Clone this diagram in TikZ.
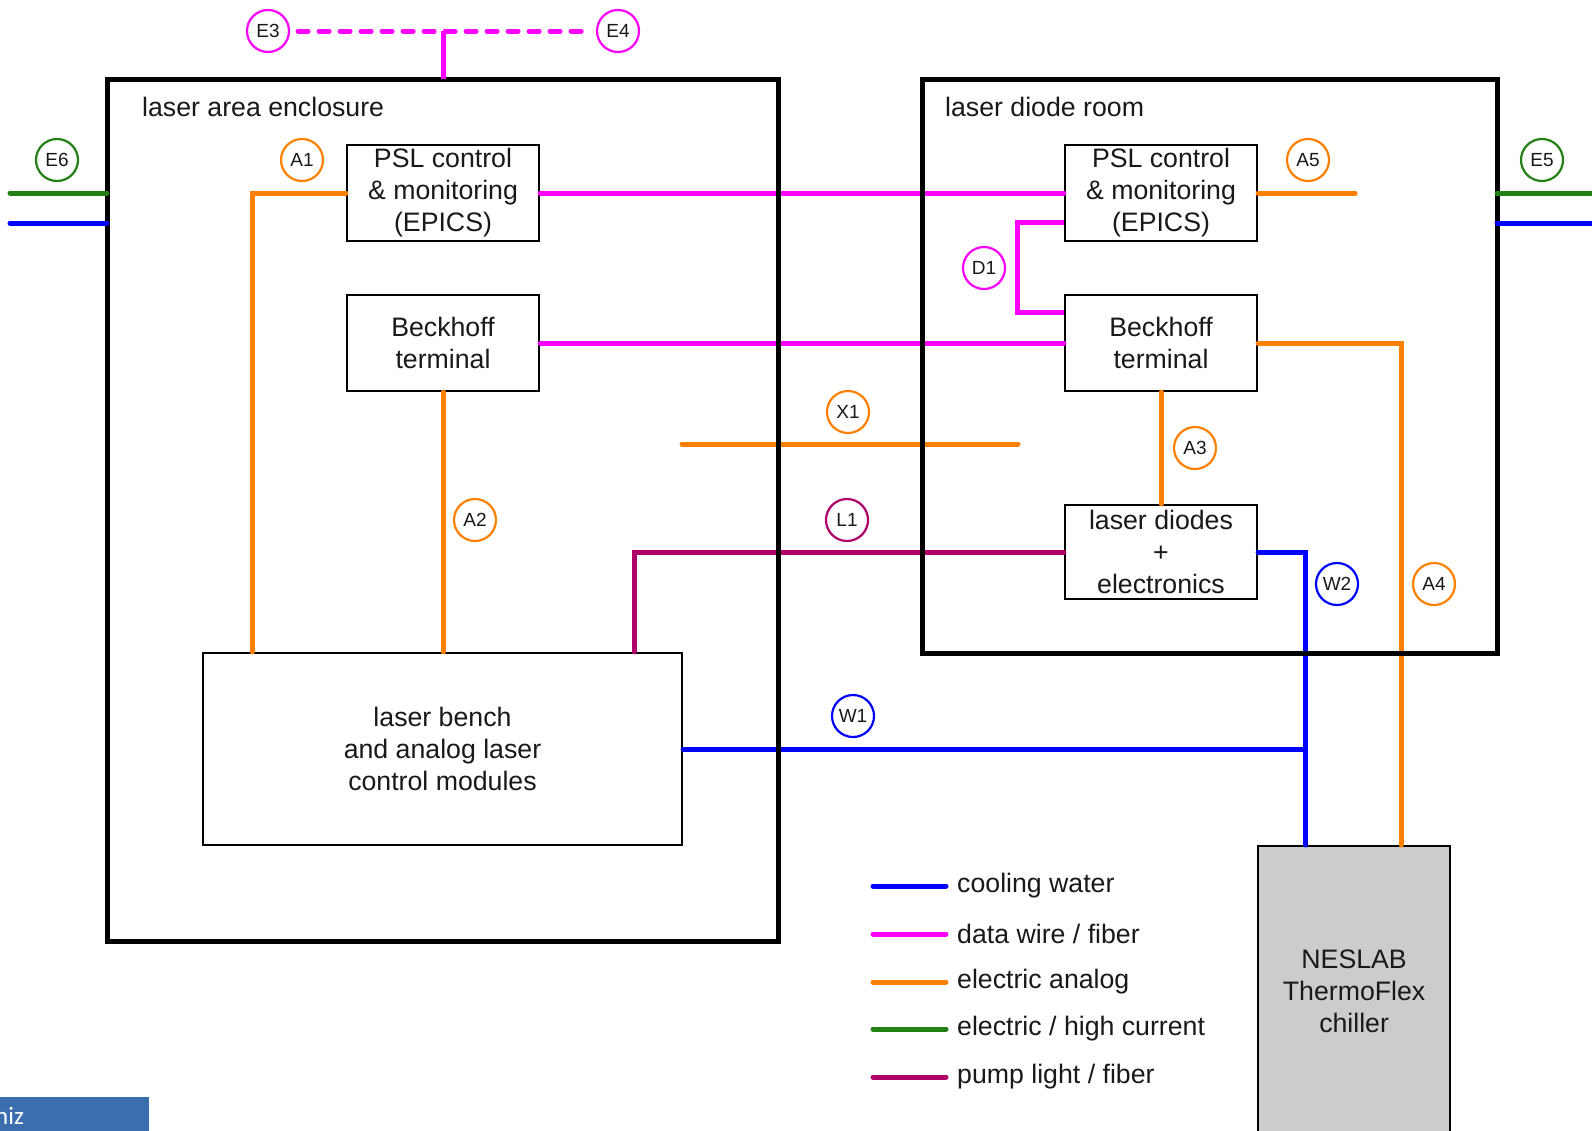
\documentclass[tikz,border=0pt]{standalone}
\usepackage{fontspec}
\setmainfont{Liberation Sans}
\newfontfamily\barfont{Carlito}
\definecolor{cOrange}{RGB}{255,128,0}
\definecolor{cMag}{RGB}{255,0,255}
\definecolor{cBlue}{RGB}{0,0,255}
\definecolor{cGreen}{RGB}{34,128,20}
\definecolor{cPump}{RGB}{176,0,104}
\definecolor{cBar}{RGB}{58,110,175}
\definecolor{cTxt}{RGB}{25,25,25}
\begin{document}
\begin{tikzpicture}[x=1pt,y=-1pt,
  room/.style={draw,line width=5pt,outer sep=0pt,inner sep=0pt,anchor=north west},
  box/.style={draw,line width=2.2pt,minimum width=192pt,minimum height=96pt,inner sep=0pt,
    align=center,text=cTxt,font=\fontsize{26.7}{32}\selectfont},
  tag/.style={circle,draw,line width=2.2pt,minimum size=42pt,inner sep=0pt,text=cTxt,
    font=\fontsize{19}{19}\selectfont},
  bigtext/.style={inner sep=0pt,text=cTxt,font=\fontsize{26.7}{32}\selectfont},
  wire/.style={line width=5pt,line cap=round},
  analog/.style={wire,draw=cOrange},
  data/.style={wire,draw=cMag},
  water/.style={wire,draw=cBlue},
  power/.style={wire,draw=cGreen},
  pump/.style={wire,draw=cPump},
]
\clip (0,0) rectangle (1592,1130);
\fill[white] (0,0) rectangle (1592,1130);

% boxes
\node[box] (psll) at (443,193) {PSL control\\\& monitoring\\(EPICS)};
\node[box] (beckl) at (443,343) {Beckhoff\\terminal};
\node[box,minimum width=479pt,minimum height=192pt] (bench) at (442.5,749) {laser bench\\and analog laser\\control modules};
\node[box] (pslr) at (1161,193) {PSL control\\\& monitoring\\(EPICS)};
\node[box] (beckr) at (1161,343) {Beckhoff\\terminal};
\node[box,minimum height=94pt] (diodes) at (1161,552) {laser diodes\\+\\electronics};
\node[box,fill=black!20,minimum width=192pt,minimum height=290pt,anchor=north west] (chiller) at (1257,845) {NESLAB\\ThermoFlex\\chiller};

% bend coordinates
\coordinate (a1x) at (252,0);
\coordinate (l1x) at (634,0);
\coordinate (wx) at (1305,0);
\coordinate (a4x) at (1401,0);
\coordinate (d1x) at (1017,0);
\coordinate (x1a) at (682,444);
\coordinate (x1b) at (1018,444);
\coordinate (e6g) at (10,193);
\coordinate (e6b) at (10,223);
\coordinate (e5g) at (1592,193);
\coordinate (e5b) at (1592,223);

% tags
\node[tag,draw=cMag] (e3) at (268,31) {E3};
\node[tag,draw=cMag] (e4) at (618,31) {E4};
\node[tag,draw=cGreen] (e6) at (57,160) {E6};
\node[tag,draw=cOrange] (a1) at (302,160) {A1};
\node[tag,draw=cOrange] (a5) at (1308,160) {A5};
\node[tag,draw=cGreen] (e5) at (1542,160) {E5};
\node[tag,draw=cMag] (d1) at (984,268) {D1};
\node[tag,draw=cOrange] (x1) at (848,412) {X1};
\node[tag,draw=cOrange] (a3) at (1195,448) {A3};
\node[tag,draw=cOrange] (a2) at (475,520) {A2};
\node[tag,draw=cPump] (l1) at (847,520) {L1};
\node[tag,draw=cBlue] (w2) at (1337,584) {W2};
\node[tag,draw=cOrange] (a4) at (1434,584) {A4};
\node[tag,draw=cBlue] (w1) at (853,716) {W1};

% connectors
\draw[analog] (psll.west) -| (bench.north -| a1x);
\draw[analog] (beckl.south) -- (bench.north -| beckl.south);
\draw[pump] (diodes.west) -| (bench.north -| l1x);
\draw[water] (diodes.east) -| (chiller.north -| wx);
\draw[water] (bench.east) -- (bench.east -| wx);
\draw[analog] (beckr.east) -| (chiller.north -| a4x);
\draw[analog] (beckr.south) -- (diodes.north);
\draw[data] (psll.east) -- (pslr.west);
\draw[data] (beckl.east) -- (beckr.west);
\draw[data,line cap=butt] ([yshift=-29pt]pslr.west) -| ([yshift=31pt]beckr.west -| d1x) -- ([yshift=31pt]beckr.west);
\draw[analog] (pslr.east) -- ++(97,0);
\draw[analog] (x1a) -- (x1b);
\path (e3) -- (e4) coordinate[midway] (tee);
\draw[data,dash pattern=on 10pt off 11pt] ([xshift=8pt]e3.east) -- ([xshift=-8pt]e4.west);

% rooms
\node[room,minimum width=671pt,minimum height=862pt] (encl) at (107,79) {};
\node[room,minimum width=575pt,minimum height=574pt] (droom) at (922,79) {};
\node[bigtext,anchor=west] (enclt) at (142,107) {laser area enclosure};
\node[bigtext,anchor=west] (droomt) at (945,107) {laser diode room};

\draw[data,line cap=butt] (tee) -- (encl.north -| tee);
\draw[power] (e6g) -- (e6g -| encl.west);
\draw[water] (e6b) -- (e6b -| encl.west);
\draw[power] (e5g) -- (e5g -| droom.east);
\draw[water] (e5b) -- (e5b -| droom.east);

% legend
\node[bigtext,anchor=west] (lg1) at (957,886) {cooling water};
\node[bigtext,anchor=west] (lg2) at (957,934) {data wire / fiber};
\node[bigtext,anchor=west] (lg3) at (957,982) {electric analog};
\node[bigtext,anchor=west] (lg4) at (957,1029) {electric / high current};
\node[bigtext,anchor=west] (lg5) at (957,1077) {pump light / fiber};
\draw[water] ([xshift=-84pt]lg1.west) -- ([xshift=-11pt]lg1.west);
\draw[data] ([xshift=-84pt]lg2.west) -- ([xshift=-11pt]lg2.west);
\draw[analog] ([xshift=-84pt]lg3.west) -- ([xshift=-11pt]lg3.west);
\draw[power] ([xshift=-84pt]lg4.west) -- ([xshift=-11pt]lg4.west);
\draw[pump] ([xshift=-84pt]lg5.west) -- ([xshift=-11pt]lg5.west);

% footer bar
\node[fill=cBar,minimum width=149pt,minimum height=34pt,inner sep=0pt,anchor=north west] (bar) at (0,1097) {};
\node[anchor=base west,inner sep=0pt,text=white,font=\barfont\fontsize{25}{25}\selectfont] (bart) at (-5,1124) {niz};
\end{tikzpicture}
\end{document}
